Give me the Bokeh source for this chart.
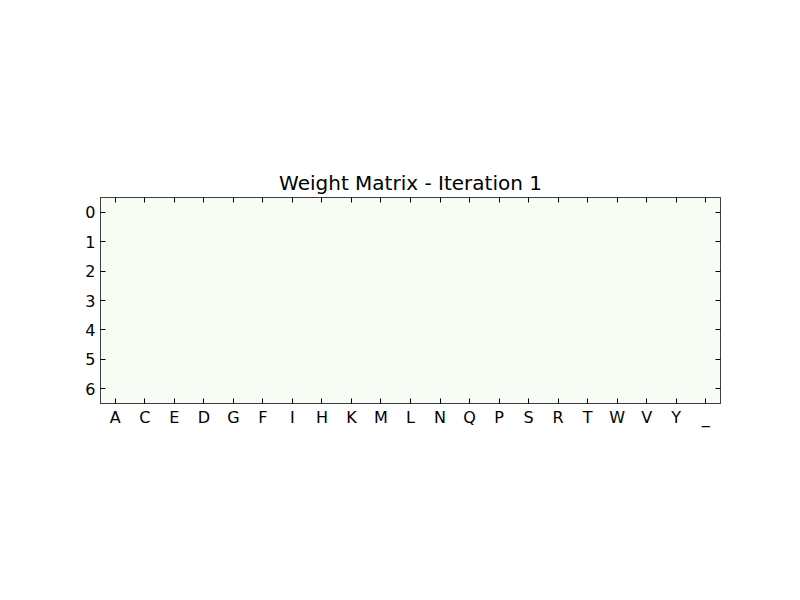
from bokeh.plotting import figure
from bokeh.models import Range1d, FixedTicker, LinearAxis, LinearColorMapper, ColumnDataSource
from bokeh.transform import transform
from bokeh.palettes import Greens9
from bokeh.embed import file_html
from bokeh.resources import INLINE

# Data
columns = ["A", "C", "E", "D", "G", "F", "I", "H", "K", "M", "L",
           "N", "Q", "P", "S", "R", "T", "W", "V", "Y", "_"]
rows = [0, 1, 2, 3, 4, 5, 6]
weights = [
    [0, 0, 0, 0, 0, 0, 0, 0, 0, 0, 0, 0, 0, 0, 0, 0, 0, 0, 0, 0, 0],
    [0, 0, 0, 0, 0, 0, 0, 0, 0, 0, 0, 0, 0, 0, 0, 0, 0, 0, 0, 0, 0],
    [0, 0, 0, 0, 0, 0, 0, 0, 0, 0, 0, 0, 0, 0, 0, 0, 0, 0, 0, 0, 0],
    [0, 0, 0, 0, 0, 0, 0, 0, 0, 0, 0, 0, 0, 0, 0, 0, 0, 0, 0, 0, 0],
    [0, 0, 0, 0, 0, 0, 0, 0, 0, 0, 0, 0, 0, 0, 0, 0, 0, 0, 0, 0, 0],
    [0, 0, 0, 0, 0, 0, 0, 0, 0, 0, 0, 0, 0, 0, 0, 0, 0, 0, 0, 0, 0],
    [0, 0, 0, 0, 0, 0, 0, 0, 0, 0, 0, 0, 0, 0, 0, 0, 0, 0, 0, 0, 0],
]
title_text = "Weight Matrix - Iteration 1"

xs, ys, vs = [], [], []
for r in rows:
    for c in range(len(columns)):
        xs.append(c)
        ys.append(r)
        vs.append(weights[r][c])
source = ColumnDataSource(dict(x=xs, y=ys, v=vs))

FONT = "DejaVu Sans"
palette = list(Greens9[::-1])

p = figure(width=784, height=584, output_backend="svg", toolbar_location=None,
           x_range=Range1d(-0.5, len(columns) - 0.5),
           y_range=Range1d(len(rows) - 0.5, -0.5),
           x_axis_location=None, y_axis_location=None,
           min_border_left=100, min_border_right=64,
           min_border_top=197, min_border_bottom=181)
p.title.text = title_text
p.title.align = "center"
p.title.text_font = FONT
p.title.text_font_size = "20px"
p.title.text_font_style = "normal"
p.title.text_color = "black"
p.title.standoff = 5

p.grid.visible = False
p.outline_line_color = "black"
p.outline_line_width = 1
p.outline_line_alpha = 1
# frame background matches the lowest colour so cell seams blend in
p.background_fill_color = palette[0]
p.border_fill_color = "white"

mapper = LinearColorMapper(palette=palette, low=0, high=1)
p.rect(x="x", y="y", width=1, height=1, source=source,
       fill_color=transform("v", mapper), line_color=None)


def style_axis(ax, labels=True):
    ax.axis_line_color = None
    ax.major_tick_in = 5
    ax.major_tick_out = 0
    ax.minor_tick_line_color = None
    ax.major_tick_line_color = "black"
    ax.major_label_text_font = FONT
    ax.major_label_text_font_size = "16px"
    ax.major_label_text_color = "black" if labels else None


xticks = FixedTicker(ticks=list(range(len(columns))))
yticks = FixedTicker(ticks=rows)

below = LinearAxis(ticker=xticks)
below.major_label_overrides = {i: c for i, c in enumerate(columns)}
style_axis(below)
below.major_label_standoff = 4
p.add_layout(below, "below")

above = LinearAxis(ticker=xticks)
style_axis(above, labels=False)
p.add_layout(above, "above")

left = LinearAxis(ticker=yticks)
style_axis(left)
left.major_label_standoff = 5
p.add_layout(left, "left")

right = LinearAxis(ticker=yticks)
style_axis(right, labels=False)
p.add_layout(right, "right")

open("out.html", "w").write(file_html(p, INLINE))
